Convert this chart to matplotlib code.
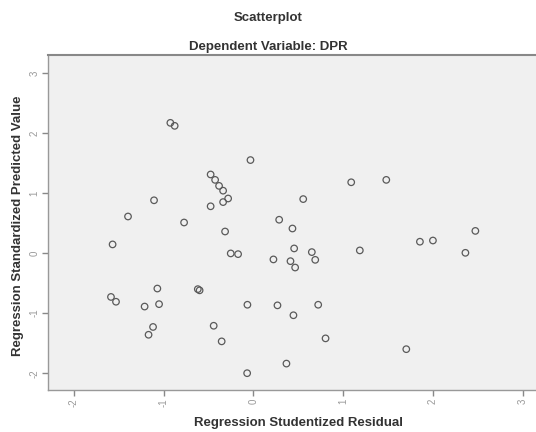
import matplotlib
matplotlib.use("Agg")
import matplotlib.pyplot as plt

# Regression studentized residual (x) vs standardized predicted value (y)
resid = [-0.926, -0.878, -0.033, -0.477, -0.427, -0.383, -0.338, -0.282, -0.338, -0.477,
         -1.108, -1.398, -0.773, -1.570, -0.316, -0.253, -0.171, 0.287, 0.435, 0.454,
         0.223, 0.413, 0.465, 1.090, 1.481, 0.555, 0.651, 0.689, 1.186, 1.856,
         2.001, 2.474, 2.363, -1.588, -1.532, -1.071, -1.213, -1.052, -1.119, -1.169,
         -0.620, -0.600, -0.067, 0.268, 0.446, -0.443, -0.354, 0.368, -0.070, 0.722,
         0.804, 1.704]
pred = [2.17, 2.12, 1.55, 1.31, 1.22, 1.12, 1.04, 0.91, 0.85, 0.78,
        0.88, 0.61, 0.51, 0.145, 0.36, -0.005, -0.017, 0.556, 0.41, 0.078,
        -0.105, -0.134, -0.24, 1.18, 1.22, 0.90, 0.017, -0.112, 0.045, 0.19,
        0.21, 0.37, 0.005, -0.73, -0.81, -0.59, -0.89, -0.85, -1.23, -1.36,
        -0.60, -0.62, -0.86, -0.87, -1.035, -1.21, -1.47, -1.84, -2.0, -0.86,
        -1.42, -1.60]
xticks = [-2, -1, 0, 1, 2, 3]
yticks = [-2, -1, 0, 1, 2, 3]

plt.rcParams['font.family'] = ['Liberation Sans', 'DejaVu Sans']

fig = plt.figure(figsize=(5.36, 4.32), dpi=100)
fig.patch.set_facecolor('white')
ax = fig.add_axes([48/536, 1 - 390/432, 1 - 48/536, (390 - 55)/432])
ax.set_facecolor('#f0f0f0')

ax.scatter(resid, pred, s=22, facecolors='none', edgecolors='#5a5a5a', linewidths=0.9, zorder=3)

ax.set_xlim(-2.29, 3.15)
ax.set_ylim(-2.28, 3.30)
ax.set_xticks(xticks)
ax.set_yticks(yticks)
ax.set_xticklabels([str(t) for t in xticks], rotation=90)
ax.set_yticklabels([str(t) for t in yticks], rotation=90, va='center')
ax.tick_params(axis='both', colors='#888888', labelcolor='#999999', labelsize=7,
               length=4, width=1, direction='out', pad=2)

for side in ['left', 'bottom']:
    ax.spines[side].set_color('#999999')
    ax.spines[side].set_linewidth(1.0)
ax.spines['top'].set_color('#888888')
ax.spines['top'].set_linewidth(1.5)
ax.spines['right'].set_visible(False)

tc = '#333333'
fig.text(0.5, 1 - 18/432, 'Scatterplot', ha='center', va='center',
         fontsize=9.5, fontweight='bold', color=tc)
fig.text(0.5, 1 - 47/432, 'Dependent Variable: DPR', ha='center', va='center',
         fontsize=9.5, fontweight='bold', color=tc)
fig.text(298/536, 1 - 423/432, 'Regression Studentized Residual', ha='center', va='center',
         fontsize=9.5, fontweight='bold', color=tc)
fig.text(18/536, 1 - 226/432, 'Regression Standardized Predicted Value', ha='center', va='center',
         rotation=90, fontsize=9.5, fontweight='bold', color=tc)

fig.savefig('out.png', dpi=100)
